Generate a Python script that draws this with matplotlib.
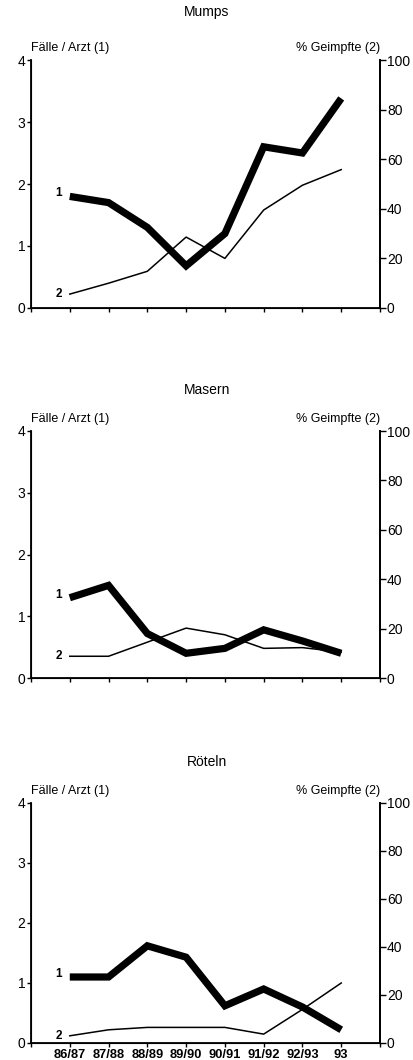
import matplotlib.pyplot as plt
import numpy as np

plt.rcParams['font.family'] = ['Liberation Sans', 'DejaVu Sans']

seasons = ["86/87", "87/88", "88/89", "89/90", "90/91", "91/92", "92/93", "93"]
titles = ["Mumps", "Masern", "Röteln"]

# Fälle / Arzt (1), left axis
mumps_cases = [1.8, 1.7, 1.3, 0.68, 1.2, 2.6, 2.5, 3.38]
masern_cases = [1.3, 1.5, 0.72, 0.4, 0.48, 0.78, 0.6, 0.4]
roeteln_cases = [1.1, 1.1, 1.62, 1.43, 0.62, 0.9, 0.6, 0.22]

# % Geimpfte (2), right axis
mumps_vacc = [5.6, 10, 14.8, 28.6, 20, 39.5, 49.5, 55.8]
masern_vacc = [8.8, 8.8, 14.5, 20.2, 17.5, 12, 12.3, 10.5]
roeteln_vacc = [3, 5.5, 6.5, 6.5, 6.5, 3.7, 14, 25]

cases = [mumps_cases, masern_cases, roeteln_cases]
vacc = [mumps_vacc, masern_vacc, roeteln_vacc]

W, H = 414, 1060
fig = plt.figure(figsize=(W / 100, H / 100), dpi=100)

# pixel boxes (top, bottom) of each panel
boxes = [(60, 308), (431, 678), (803, 1043)]
title_y = [12, 390, 762]
left_px, right_px = 31, 380

x = np.arange(1, len(seasons) + 1)

for i, (top, bot) in enumerate(boxes):
    ax = fig.add_axes([left_px / W, 1 - bot / H, (right_px - left_px) / W, (bot - top) / H])
    ax.set_xlim(0, 9)
    ax.set_ylim(0, 4)
    ax.plot(x, cases[i], color='black', lw=5.2, solid_capstyle='butt', solid_joinstyle='miter', zorder=3)
    ax.spines['top'].set_visible(False)
    for s in ['left', 'bottom', 'right']:
        ax.spines[s].set_linewidth(1.3)
    ax.set_yticks([0, 1, 2, 3, 4])
    ax.tick_params(axis='y', direction='out', length=3, width=1, labelsize=10, pad=1)
    ax.set_xticks(np.arange(0, 10))
    ax.tick_params(axis='x', direction='out', length=3, width=1, pad=1)
    if i == 2:
        ax.set_xticklabels([""] + seasons + [""], fontsize=9.3, fontweight='bold')
    else:
        ax.set_xticklabels([])

    ax2 = ax.twinx()
    ax2.set_ylim(0, 100)
    ax2.plot(x, vacc[i], color='black', lw=1.1, zorder=2)
    ax2.spines['top'].set_visible(False)
    ax2.spines['right'].set_linewidth(1.3)
    ax2.set_yticks([0, 20, 40, 60, 80, 100])
    ax2.tick_params(axis='y', direction='out', length=4, width=1, labelsize=10, pad=1)

    # series labels
    ax.text(x[0] - 0.2, cases[i][0] + 0.05, "1", fontsize=8.5, fontweight='bold', ha='right', va='center')
    ax2.text(x[0] - 0.2, vacc[i][0], "2", fontsize=8.5, fontweight='bold', ha='right', va='center')

    ax.text(0.0, 1.025, "Fälle / Arzt (1)", transform=ax.transAxes, fontsize=9, ha='left', va='bottom')
    ax.text(1.0, 1.025, "% Geimpfte (2)", transform=ax.transAxes, fontsize=9, ha='right', va='bottom')

    fig.text(207 / W, 1 - title_y[i] / H, titles[i], fontsize=10, ha='center', va='center')

fig.savefig("out.png", dpi=100)
